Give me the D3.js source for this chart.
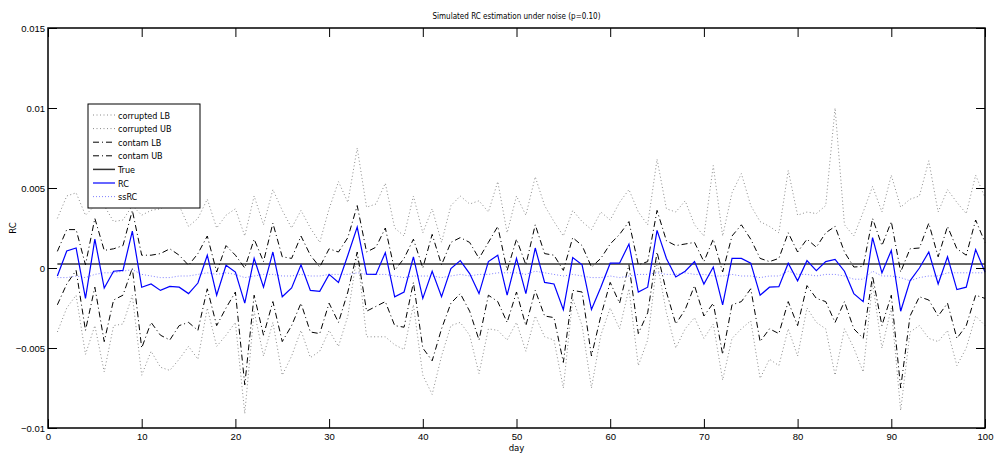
<!DOCTYPE html>
<html>
<head>
<meta charset="utf-8">
<script src="https://cdn.jsdelivr.net/npm/d3@7"></script>
<style>
  body { margin: 0; background: #fff; }
  svg { display: block; font-family: "DejaVu Sans Condensed", "Liberation Sans Narrow", "Liberation Sans", sans-serif; font-stretch: condensed; }
</style>
</head>
<body>
<div id="chart"></div>
<script>
// Simulated RC estimation under noise — MATLAB-style line plot.
// Values.

const days = d3.range(1, 101);
const trueRC = 0.00025;

const rc = [-0.0005, 0.00106, 0.00125, -0.0019, 0.0018, -0.00125, -0.0002, -0.00015, 0.0023, -0.0012,
  -0.001, -0.0014, -0.00115, -0.0012, -0.0016, -0.00094, 0.0008, -0.0017, 0.00017, -0.00025,
  -0.0022, 0.0006, -0.0012, 0.001, -0.0018, -0.00125, 0.0002, -0.0014, -0.00146, -0.0004,
  -0.0009, 0.0008, 0.00256, -0.00038, -0.0004, 0.00096, -0.0018, -0.0015, 0.0007, -0.0019,
  -0.0002, -0.0018, -0.00004, 0.00046, -0.00035, -0.0016, 0.0004, 0.0008, -0.0017, 0.0006,
  -0.0016, 0.00125, -0.0009, -0.001, -0.0026, 0.00065, 0.0002, -0.0026, -0.0012, 0.0003,
  0.0003, 0.0015, -0.0015, -0.0012, 0.00235, 0.0006, -0.00056, -0.0002, 0.0004, -0.001,
  0.00006, -0.0023, 0.0006, 0.0006, 0.0003, -0.0017, -0.0012, -0.00117, 0.0003, -0.0008,
  0.00046, -0.00017, 0.0004, 0.00054, -0.0002, -0.0016, -0.0021, 0.0019, -0.0003, 0.0011,
  -0.0027, -0.0008, 0, 0.001, -0.001, 0.0007, -0.00135, -0.0012, 0.00115, -0.00025];

const ssRC = [-0.0006, -0.0006, -0.0005, -0.0006, -0.0004, -0.0003, -0.0003, -0.0002, -0.0001, -0.0004,
  -0.0005, -0.0006, -0.0006, -0.0005, -0.0005, -0.0004, -0.0003, -0.0004, -0.0003, -0.0004,
  -0.0006, -0.0005, -0.0004, -0.0004, -0.0005, -0.0005, -0.0004, -0.0005, -0.0005, -0.0004,
  -0.0004, -0.0004, -0.0003, -0.0004, -0.0004, -0.0004, -0.0005, -0.0006, -0.0005, -0.0005,
  -0.0005, -0.0006, -0.0005, -0.0004, -0.0005, -0.0004, -0.0004, -0.0003, -0.0003, -0.0003,
  -0.0004, -0.0002, -0.0003, -0.0004, -0.0005, -0.0004, -0.0005, -0.0006, -0.0006, -0.0005,
  -0.0006, -0.0005, -0.0004, -0.0004, -0.0003, -0.0004, -0.0004, -0.0003, -0.0004, -0.0004,
  -0.0005, -0.0005, -0.0004, -0.0005, -0.0005, -0.0006, -0.0005, -0.0005, -0.0002, -0.0004,
  -0.0004, -0.0005, -0.0004, -0.0004, -0.0005, -0.0007, -0.0007, -0.0002, -0.0005, -0.0005,
  -0.0006, -0.0008, -0.0006, -0.0005, -0.0005, -0.0003, -0.0003, -0.0003, -0.0003, -0.0003];

const contamUB = [0.00104, 0.0024, 0.0024, 0.0002, 0.0031, 0.0011, 0.0012, 0.0014, 0.0036, 0.0008,
  0.0008, 0.0009, 0.0012, 0.0008, 0.00017, 0.0009, 0.002, -0.00025, 0.0014, 0.0008,
  0, 0.0018, 0.0004, 0.0028, 0.0007, 0.0006, 0.002, 0.0008, 0.00006, 0.0012,
  0.001, 0.0019, 0.0039, 0.001, 0.0013, 0.0025, -0.00015, 0.0006, 0.0018, 0,
  0.0021, 0.0002, 0.0016, 0.0019, 0.0016, 0.0006, 0.0016, 0.0026, -0.00015, 0.0018,
  0.0002, 0.0027, 0.0009, 0.0008, -0.00015, 0.0019, 0.0014, 0.00006, 0.0006, 0.0015,
  0.0021, 0.0029, 0.0002, 0.0004, 0.0036, 0.0017, 0.0014, 0.0015, 0.0016, 0.0004,
  0.0018, -0.00025, 0.002, 0.0027, 0.0018, 0.0006, 0.0004, 0.0006, 0.0022, 0.001,
  0.0018, 0.0013, 0.0022, 0.0026, 0.001, 0.00006, 0.0001, 0.0031, 0.0014, 0.0029,
  -0.00025, 0.0012, 0.00125, 0.0028, 0.0007, 0.0026, 0.0012, 0.0008, 0.003, 0.0016];

const contamLB = [-0.0023, -0.001, -0.00015, -0.0039, -0.0012, -0.0046, -0.002, -0.0017, 0, -0.005,
  -0.0034, -0.0042, -0.0045, -0.0036, -0.0034, -0.0039, -0.0013, -0.0036, -0.0025, -0.0015,
  -0.0073, -0.0017, -0.0042, -0.0021, -0.0046, -0.0036, -0.0022, -0.004, -0.0041, -0.0022,
  -0.0034, -0.0015, 0.001, -0.0027, -0.0024, -0.0021, -0.0036, -0.0037, -0.0009, -0.005,
  -0.0058, -0.0038, -0.0022, -0.0016, -0.0027, -0.0045, -0.0017, -0.0021, -0.0034, -0.0015,
  -0.0036, -0.0014, -0.003, -0.0031, -0.0059, -0.0014, -0.0015, -0.0055, -0.003, -0.0009,
  -0.0022, 0.0002, -0.0041, -0.0028, 0.001, -0.0015, -0.0035, -0.0026, -0.0011, -0.003,
  -0.0022, -0.0054, -0.0023, -0.0021, -0.0013, -0.0046, -0.0038, -0.0041, -0.0021, -0.0036,
  -0.0011, -0.0019, -0.0021, -0.0034, -0.0021, -0.0038, -0.0044, -0.0005, -0.0036, -0.0017,
  -0.0075, -0.003, -0.0018, -0.002, -0.003, -0.0022, -0.0044, -0.0036, -0.0017, -0.0019];

const corruptedUB = [0.0031, 0.0045, 0.0047, 0.0033, 0.0039, 0.0039, 0.0029, 0.003, 0.0039, 0.0033,
  0.0036, 0.0037, 0.0041, 0.0039, 0.0026, 0.0031, 0.0043, 0.0025, 0.0033, 0.0037,
  0.002, 0.0045, 0.0027, 0.0049, 0.0036, 0.0025, 0.0036, 0.0025, 0.0016, 0.0037,
  0.0054, 0.0041, 0.0075, 0.0038, 0.004, 0.0053, 0.0025, 0.002, 0.0045, 0.0022,
  0.0037, 0.0016, 0.0039, 0.0045, 0.004, 0.0042, 0.0035, 0.0054, 0.0022, 0.0045,
  0.0033, 0.0057, 0.0039, 0.0029, 0.002, 0.0036, 0.0029, 0.0024, 0.0035, 0.003,
  0.0041, 0.0049, 0.0035, 0.0027, 0.0068, 0.0037, 0.0035, 0.0042, 0.0027, 0.002,
  0.0064, 0.002, 0.0047, 0.0059, 0.0039, 0.0029, 0.0026, 0.0022, 0.0061, 0.0033,
  0.0035, 0.0034, 0.0039, 0.01, 0.0027, 0.002, 0.0035, 0.0051, 0.0035, 0.0058,
  0.0038, 0.0043, 0.0045, 0.0067, 0.0035, 0.0049, 0.0041, 0.0034, 0.0058, 0.0044];

const corruptedLB = [-0.004, -0.0025, -0.0017, -0.0054, -0.0036, -0.0065, -0.0036, -0.0035, -0.0017, -0.0067,
  -0.0052, -0.0062, -0.0064, -0.0057, -0.0049, -0.0057, -0.0025, -0.0049, -0.0042, -0.0034,
  -0.0091, -0.0027, -0.0055, -0.0034, -0.0067, -0.0055, -0.0039, -0.0056, -0.0052, -0.0039,
  -0.0049, -0.003, 0.0009, -0.0043, -0.0043, -0.0043, -0.0048, -0.0051, -0.0023, -0.0067,
  -0.0079, -0.0055, -0.0036, -0.0034, -0.0042, -0.0066, -0.0038, -0.0039, -0.0045, -0.0034,
  -0.0052, -0.003, -0.0043, -0.0045, -0.0075, -0.0019, -0.0036, -0.0075, -0.0042, -0.0025,
  -0.0038, -0.0013, -0.0061, -0.0045, 0.0004, -0.0028, -0.005, -0.0038, -0.0031, -0.0044,
  -0.0035, -0.007, -0.0044, -0.0038, -0.0033, -0.0069, -0.0057, -0.0061, -0.0038, -0.0055,
  -0.0025, -0.0034, -0.0038, -0.0067, -0.0038, -0.005, -0.0065, -0.0009, -0.005, -0.0025,
  -0.0089, -0.004, -0.0036, -0.0044, -0.0046, -0.0039, -0.0061, -0.005, -0.003, -0.0036];

const xTicks = d3.range(0, 101, 10);
const yTicks = [-0.01, -0.005, 0, 0.005, 0.01, 0.015];

// series in legend order
const series = [
  { name: "corrupted LB", values: corruptedLB, color: "#8a8a8a", dash: "1,2.5", width: 1 },
  { name: "corrupted UB", values: corruptedUB, color: "#8a8a8a", dash: "1,2.5", width: 1 },
  { name: "contam LB", values: contamLB, color: "#000", dash: "6,3,1,3", width: 1 },
  { name: "contam UB", values: contamUB, color: "#000", dash: "6,3,1,3", width: 1 },
  { name: "True", values: days.map(() => trueRC), color: "#333", dash: null, width: 1.5 },
  { name: "RC", values: rc, color: "#0000ff", dash: null, width: 1.2 },
  { name: "ssRC", values: ssRC, color: "#7f7fff", dash: "1,2", width: 1 },
];

const width = 995, height = 454;
const margin = { top: 28, right: 10, bottom: 26, left: 48 };

const svg = d3.select("#chart").append("svg")
  .attr("width", width).attr("height", height);

const x = d3.scaleLinear().domain([0, 100]).range([margin.left, width - margin.right]);
const y = d3.scaleLinear().domain([-0.01, 0.015]).range([height - margin.bottom, margin.top]);

const line = d3.line().x((d, i) => x(days[i])).y(d => y(d));

const plot = svg.append("g");
// draw back to front so RC sits on top
[4, 0, 1, 2, 3, 6, 5].forEach(k => {
  const s = series[k];
  plot.append("path")
    .datum(s.values)
    .attr("d", line)
    .attr("fill", "none")
    .attr("stroke", s.color)
    .attr("stroke-width", s.width)
    .attr("stroke-dasharray", s.dash);
});

// axes: box with inward ticks, MATLAB style
const fmtY = d => d === 0 ? "0" : d3.format("")(d).replace("-", "\u2212");
svg.append("g")
  .attr("transform", `translate(0,${y(-0.01)})`)
  .call(d3.axisBottom(x).tickValues(xTicks).tickSizeInner(-9).tickSizeOuter(0).tickPadding(5))
  .call(g => g.select(".domain").remove());
svg.append("g")
  .attr("transform", `translate(0,${y(0.015)})`)
  .call(d3.axisTop(x).tickValues(xTicks).tickSizeInner(-9).tickSizeOuter(0).tickFormat(""))
  .call(g => g.select(".domain").remove());
svg.append("g")
  .attr("transform", `translate(${x(0)},0)`)
  .call(d3.axisLeft(y).tickValues(yTicks).tickSizeInner(-9).tickSizeOuter(0).tickPadding(3).tickFormat(fmtY))
  .call(g => g.select(".domain").remove());
svg.append("g")
  .attr("transform", `translate(${x(100)},0)`)
  .call(d3.axisRight(y).tickValues(yTicks).tickSizeInner(-9).tickSizeOuter(0).tickFormat(""))
  .call(g => g.select(".domain").remove());

svg.selectAll(".tick text").attr("font-size", 9.5).attr("font-family", null).attr("fill", "#000");
svg.selectAll(".tick line").attr("stroke", "#000");

svg.append("rect")
  .attr("x", x(0)).attr("y", y(0.015))
  .attr("width", x(100) - x(0)).attr("height", y(-0.01) - y(0.015))
  .attr("fill", "none").attr("stroke", "#000").attr("stroke-width", 1.5);

// labels
svg.append("text").attr("x", (x(0) + x(100)) / 2).attr("y", 19)
  .attr("text-anchor", "middle").attr("font-size", 9.5)
  .attr("textLength", 168).attr("lengthAdjust", "spacingAndGlyphs")
  .text("Simulated RC estimation under noise (p=0.10)");
svg.append("text").attr("x", (x(0) + x(100)) / 2).attr("y", 451)
  .attr("text-anchor", "middle").attr("font-size", 9.5).text("day");
svg.append("text")
  .attr("transform", `translate(16,${y(0.0025)}) rotate(-90)`)
  .attr("text-anchor", "middle").attr("font-size", 9.5).text("RC");

// legend
const lg = svg.append("g").attr("transform", "translate(88,104)");
lg.append("rect").attr("width", 112).attr("height", 104)
  .attr("fill", "#fff").attr("stroke", "#000").attr("stroke-width", 1);
series.forEach((s, i) => {
  const yy = 11 + i * 13.6;
  lg.append("line").attr("x1", 5).attr("x2", 27).attr("y1", yy).attr("y2", yy)
    .attr("stroke", s.color).attr("stroke-width", s.width)
    .attr("stroke-dasharray", s.dash);
  lg.append("text").attr("x", 30).attr("y", yy + 3.5).attr("font-size", 9).text(s.name);
});
</script>
</body>
</html>
